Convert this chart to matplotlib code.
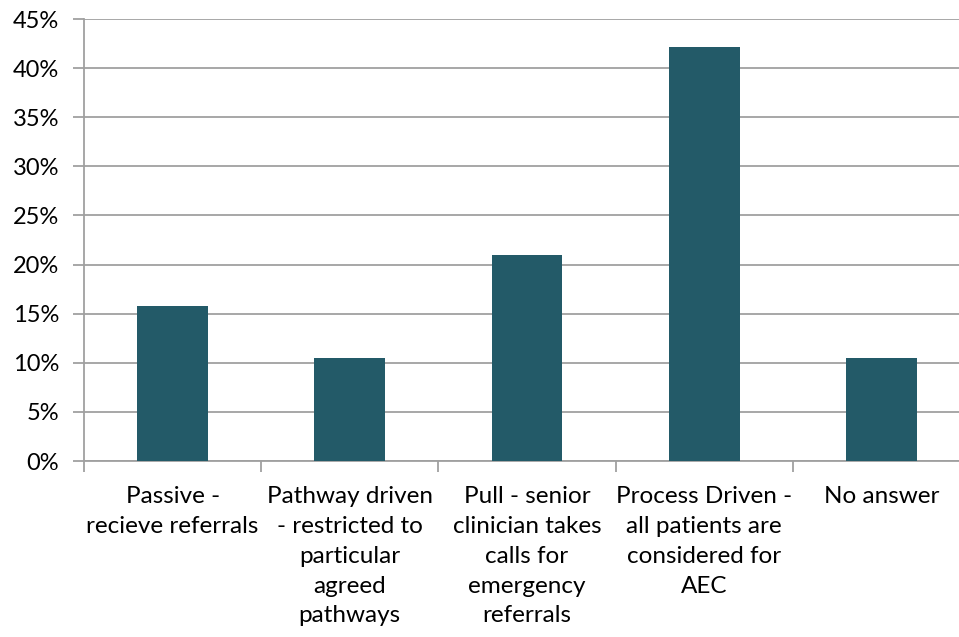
import matplotlib.pyplot as plt
from matplotlib.ticker import FuncFormatter, MultipleLocator

categories = [
    "Passive -\nrecieve referrals",
    "Pathway driven\n- restricted to\nparticular\nagreed\npathways",
    "Pull - senior\nclinician takes\ncalls for\nemergency\nreferrals",
    "Process Driven -\nall patients are\nconsidered for\nAEC",
    "No answer",
]
shares = [15.8, 10.5, 21.0, 42.1, 10.5]

plt.rcParams["font.family"] = ["Lato", "DejaVu Sans"]

fig = plt.figure(figsize=(9.59, 6.37), dpi=100)
ax = fig.add_axes([84 / 959, 1 - 461 / 637, 886 / 959, 442 / 637])

x = range(len(categories))
ax.bar(x, shares, width=0.4, color="#235a68", zorder=3)

ax.set_xlim(-0.5, len(categories) - 0.5)
ax.set_ylim(0, 45)
ax.yaxis.set_major_locator(MultipleLocator(5))
ax.yaxis.set_major_formatter(FuncFormatter(lambda v, _: f"{v:.0f}%"))
ax.grid(axis="y", color="#a0a0a0", linewidth=1.3, zorder=0)

# category labels sit between the boundary tick marks
ax.set_xticks(list(x))
ax.set_xticklabels(categories, fontsize=17.5, linespacing=1.52, va="top")
ax.set_xticks([i - 0.5 for i in range(len(categories) + 1)], minor=True)
ax.tick_params(axis="x", which="major", length=0, pad=18)
ax.tick_params(axis="x", which="minor", length=8, width=1.3, color="#a0a0a0")
ax.tick_params(axis="y", length=8, width=1.3, color="#a0a0a0", labelsize=17, pad=10)

for side in ["top", "right"]:
    ax.spines[side].set_visible(False)
for side in ["left", "bottom"]:
    ax.spines[side].set_color("#a0a0a0")
    ax.spines[side].set_linewidth(1.3)

fig.savefig("out.png", dpi=100)
